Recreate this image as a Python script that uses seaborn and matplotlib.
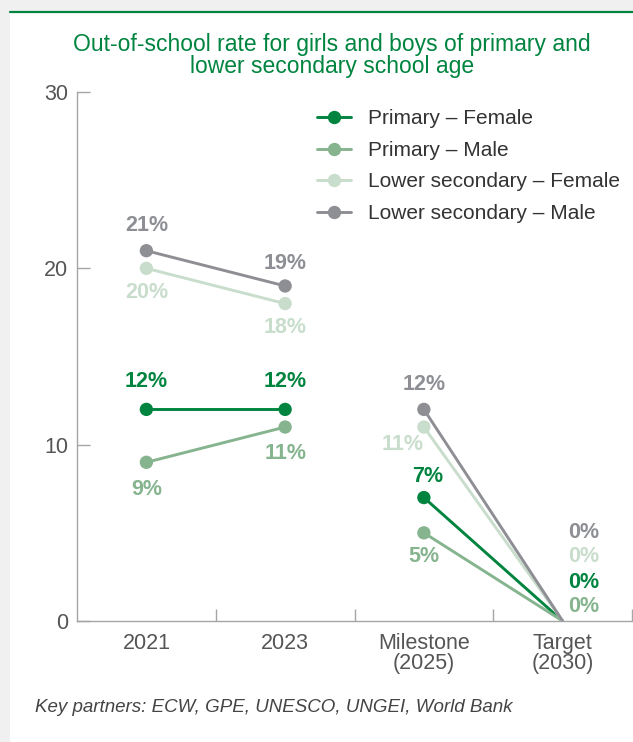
import matplotlib
matplotlib.use("Agg")
import matplotlib.pyplot as plt
from matplotlib.lines import Line2D
from matplotlib.patches import Rectangle
import numpy as np
import pandas as pd
import seaborn as sns

# --- data -------------------------------------------------------------
categories = ["2021", "2023", "Milestone\n(2025)", "Target\n(2030)"]
# observed years are joined to each other, milestone is joined to target
segments = ["observed", "observed", "goal", "goal"]
series_names = [
    "Primary \u2013 Female",
    "Primary \u2013 Male",
    "Lower secondary \u2013 Female",
    "Lower secondary \u2013 Male",
]
primary_female = [12, 12, 7, 0]
primary_male = [9, 11, 5, 0]
lower_sec_female = [20, 18, 11, 0]
lower_sec_male = [21, 19, 12, 0]
y_ticks = [0, 10, 20, 30]

colors = {
    series_names[0]: "#00843f",
    series_names[1]: "#85b48e",
    series_names[2]: "#c9ddcc",
    series_names[3]: "#8e8f95",
}

values = [primary_female, primary_male, lower_sec_female, lower_sec_male]
positions = np.arange(len(categories))
df = pd.DataFrame(
    [
        {"series": name, "pos": p, "value": v, "segment": f"{name}|{seg}"}
        for name, vals in zip(series_names, values)
        for p, v, seg in zip(positions, vals, segments)
    ]
)

# value-label offsets (pixels) for each series at each category
label_offsets = {
    series_names[0]: [(0, 28), (0, 28), (4, 21), (21, 39)],
    series_names[1]: [(0, -27), (0, -26), (0, -24), (21, 14)],
    series_names[2]: [(0, -24), (0, -24), (-21, -17), (21, 64)],
    series_names[3]: [(0, 25), (0, 22), (0, 25), (21, 89)],
}

# --- figure -----------------------------------------------------------
sns.set_theme(style="white")
plt.rcParams["font.family"] = ["Liberation Sans", "DejaVu Sans"]

W, H = 633, 742
fig = plt.figure(figsize=(W / 100, H / 100), dpi=100)
fig.patch.set_facecolor("#f0f0f0")

# white panel with green rule on top
fig.add_artist(Rectangle((10 / W, 0), 1 - 10 / W, 1 - 12 / H,
                         transform=fig.transFigure, facecolor="white",
                         edgecolor="none", zorder=0))
fig.add_artist(Line2D([10 / W, 1], [1 - 12 / H, 1 - 12 / H],
                      transform=fig.transFigure, color="#00843f", lw=1.6))

ax = fig.add_axes([77 / W, 1 - 621 / H, (632 - 77) / W, (621 - 92) / H])
ax.set_facecolor("none")

sns.lineplot(
    data=df, x="pos", y="value", hue="series", hue_order=series_names,
    units="segment", estimator=None, palette=colors, sort=False,
    legend=False, ax=ax, linewidth=2.1,
)
# dots on every point except the final target
sns.scatterplot(
    data=df[df["pos"] < positions[-1]], x="pos", y="value", hue="series",
    hue_order=series_names, palette=colors, s=92, linewidth=0,
    legend=False, ax=ax, zorder=3,
)

for name, vals in zip(series_names, values):
    for p, v, off in zip(positions, vals, label_offsets[name]):
        ax.annotate(f"{v}%", (p, v), xytext=off, textcoords="offset pixels",
                    ha="center", va="center", fontsize=15.5,
                    fontweight="bold", color=colors[name],
                    annotation_clip=False)

ax.set_xlim(-0.5, len(categories) - 0.5)
ax.set_ylim(0, 30)
ax.set_xlabel("")
ax.set_ylabel("")

sns.despine(ax=ax)
for s in ("left", "bottom"):
    ax.spines[s].set_color("#a5a5a5")
    ax.spines[s].set_linewidth(1.0)

ax.set_yticks(y_ticks)
ax.set_yticklabels([str(t) for t in y_ticks])
ax.tick_params(axis="y", direction="in", length=9.5, width=1.0,
               color="#a5a5a5", pad=6.5, labelsize=15.5,
               labelcolor="#555555", left=True)

ax.set_xticks(positions)
ax.set_xticklabels(categories)
ax.set_xticks(list(positions[1:] - 0.5) + [len(categories) - 0.5],
              minor=True)
ax.tick_params(axis="x", which="major", length=0, pad=8.5, labelsize=15.5,
               labelcolor="#555555")
ax.tick_params(axis="x", which="minor", direction="in", length=8.5,
               width=1.0, color="#a5a5a5", bottom=True)
for lbl in ax.get_xticklabels():
    lbl.set_linespacing(0.95)

# legend
handles = [
    Line2D([], [], color=colors[n], lw=2.1, marker="o", markersize=9.6,
           markeredgewidth=0)
    for n in series_names
]
leg = ax.legend(handles, series_names, loc="upper left",
                bbox_to_anchor=(0.417, 0.983), frameon=False, fontsize=15,
                handlelength=1.65, handletextpad=0.8, labelspacing=0.6,
                borderaxespad=0)
for t in leg.get_texts():
    t.set_color("#333333")

fig.text(332 / W, 1 - 55.5 / H,
         "Out-of-school rate for girls and boys of primary and\n"
         "lower secondary school age",
         ha="center", va="center", fontsize=16.5, color="#00843f",
         linespacing=1.0)

fig.text(35 / W, 1 - 707 / H,
         "Key partners: ECW, GPE, UNESCO, UNGEI, World Bank",
         ha="left", va="center", fontsize=13.5, style="italic",
         color="#444444")

fig.savefig("out.png", dpi=100)
